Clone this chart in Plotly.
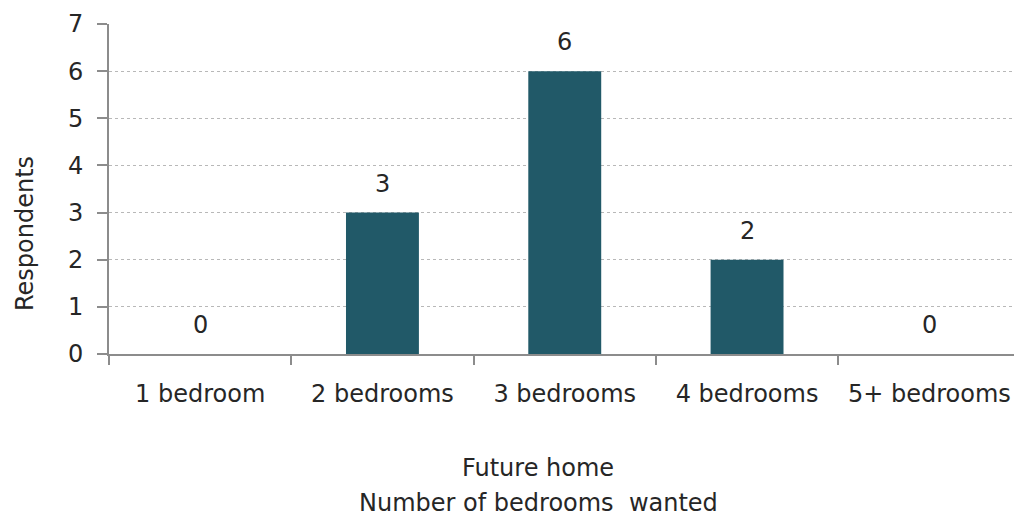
import plotly.graph_objects as go

# Survey results: number of bedrooms wanted in a future home
categories = ["1 bedroom", "2 bedrooms", "3 bedrooms", "4 bedrooms", "5+ bedrooms"]
respondents = [0, 3, 6, 2, 0]
y_ticks = [0, 1, 2, 3, 4, 5, 6, 7]
x_title_lines = ["Future home", "Number of bedrooms  wanted"]

BAR_COLOR = "#215968"
TEXT_COLOR = "#262626"
AXIS_COLOR = "#8c8c8c"
FONT = "DejaVu Sans"

W, H = 1014, 518
M_L, M_R, M_T, M_B = 109, 0, 24, 164
plot_w = W - M_L - M_R
plot_h = H - M_T - M_B
cat_w = 182.3  # pixel width of one category slot
x_hi = -0.5 + plot_w / cat_w


def px_to_paper_x(px):
    return (px - M_L) / plot_w


def px_to_paper_y(py):
    return (H - M_B - py) / plot_h


fig = go.Figure()
fig.add_trace(go.Bar(
    x=categories,
    y=respondents,
    marker=dict(color=BAR_COLOR, line=dict(width=0)),
    width=0.4,
    hoverinfo="x+y",
))

# value labels above each bar
for c, v in zip(categories, respondents):
    fig.add_annotation(
        x=c, y=v, text=str(v), showarrow=False,
        xref="x", yref="y", yanchor="bottom", yshift=13,
        font=dict(family=FONT, size=24, color=TEXT_COLOR),
    )

# x axis title, two centred lines
for line, cy in zip(x_title_lines, [468, 503]):
    fig.add_annotation(
        x=px_to_paper_x(538), y=px_to_paper_y(cy), xref="paper", yref="paper",
        text=line, showarrow=False, xanchor="center", yanchor="middle",
        font=dict(family=FONT, size=24, color=TEXT_COLOR),
    )

# y axis title
fig.add_annotation(
    x=px_to_paper_x(25), y=px_to_paper_y(234),
    xref="paper", yref="paper", text="Respondents", textangle=-90,
    showarrow=False, xanchor="center", yanchor="middle",
    font=dict(family=FONT, size=24, color=TEXT_COLOR),
)

fig.update_layout(
    width=W, height=H,
    margin=dict(l=M_L, r=M_R, t=M_T, b=M_B, pad=0),
    paper_bgcolor="white", plot_bgcolor="white",
    showlegend=False,
    font=dict(family=FONT, size=24, color=TEXT_COLOR),
    xaxis=dict(
        type="category",
        range=[-0.5, x_hi],
        tickson="boundaries",
        ticks="outside", ticklen=9, tickwidth=1.5, tickcolor=AXIS_COLOR,
        showline=True, linecolor=AXIS_COLOR, linewidth=2,
        showgrid=False, zeroline=False,
        ticklabelstandoff=17,
        tickfont=dict(family=FONT, size=24, color=TEXT_COLOR),
    ),
    yaxis=dict(
        range=[0, 7],
        tickvals=y_ticks,
        ticks="outside", ticklen=10, tickwidth=1.5, tickcolor=AXIS_COLOR,
        showline=True, linecolor=AXIS_COLOR, linewidth=2,
        showgrid=True, gridcolor="#b8b8b8", gridwidth=1, griddash="dot",
        zeroline=False,
        ticklabelstandoff=9,
        tickfont=dict(family=FONT, size=24, color=TEXT_COLOR),
    ),
)

fig.write_html("out.html")
